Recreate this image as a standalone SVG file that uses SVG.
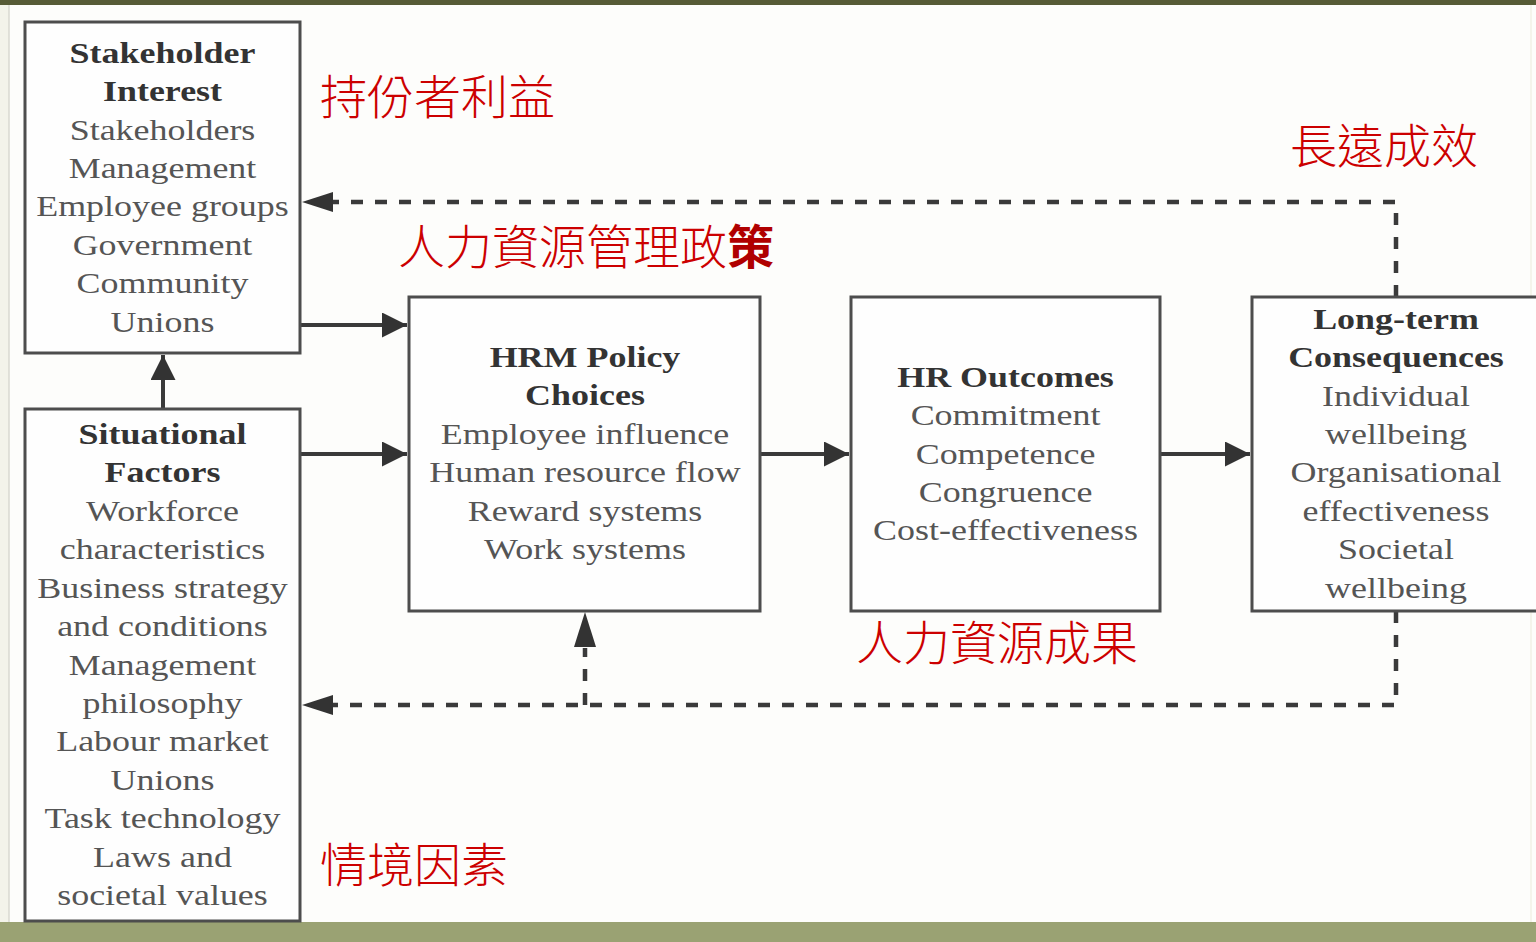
<svg xmlns="http://www.w3.org/2000/svg" width="1536" height="942" viewBox="0 0 1536 942">
<defs>
<style>
.box{fill:#fefefe;stroke:#4d4d4d;stroke-width:3}
.solid{stroke:#3a3a3a;stroke-width:4;fill:none}
.dash{stroke:#3a3a3a;stroke-width:4.5;fill:none;stroke-dasharray:12 12}
.t{font-family:"Liberation Serif","Times New Roman",serif;font-size:29px;fill:#555;text-anchor:middle}
.b{font-weight:bold;fill:#333}
.zh{font-family:"Noto Sans CJK TC","Noto Sans CJK SC",sans-serif;font-size:47px;font-weight:300;fill:#cc0000}
</style>
<marker id="ah" viewBox="0 0 10 10" refX="10" refY="5" markerWidth="31" markerHeight="25" markerUnits="userSpaceOnUse" orient="auto">
<path d="M0,0 L10,5 L0,10 Z" fill="#333"/>
</marker>
</defs>
<rect x="0" y="0" width="1536" height="942" fill="#fdfdfb"/>
<rect x="0" y="0" width="9" height="942" fill="#f3f3ea"/>
<line x1="9" y1="0" x2="9" y2="923" stroke="#d8d8d0" stroke-width="1.5"/>
<line x1="1531" y1="0" x2="1531" y2="923" stroke="#f0f0e6" stroke-width="1.5"/>
<rect x="0" y="0" width="1536" height="5" fill="#575b36"/>
<rect x="0" y="922" width="1536" height="20" fill="#9aa273"/>

<g id="connectors">
<line class="solid" x1="300" y1="325" x2="407" y2="325" marker-end="url(#ah)"/>
<line class="solid" x1="300" y1="454" x2="407" y2="454" marker-end="url(#ah)"/>
<line class="solid" x1="760" y1="454" x2="849" y2="454" marker-end="url(#ah)"/>
<line class="solid" x1="1160" y1="454" x2="1250" y2="454" marker-end="url(#ah)"/>
<line class="solid" x1="163" y1="408" x2="163" y2="355" marker-end="url(#ah)"/>
<path class="dash" d="M1396,297 L1396,202 L333,202"/>
<path d="M302,202 L333,192 L333,212 Z" fill="#333"/>
<path class="dash" d="M1396,611 L1396,705 L333,705"/>
<path d="M302,705 L333,695 L333,715 Z" fill="#333"/>
<path class="dash" d="M585,705 L585,648" stroke-dasharray="11 11"/>
<path d="M585,612 L574,647 L596,647 Z" fill="#333"/>
</g>

<g id="stakeholder">
<rect class="box" x="25" y="22" width="275" height="331"/>
<g transform="translate(162.5 0) scale(1.24 1)">
<text class="t b" x="0" y="63">Stakeholder</text>
<text class="t b" x="0" y="101">Interest</text>
<text class="t" x="0" y="140">Stakeholders</text>
<text class="t" x="0" y="178">Management</text>
<text class="t" x="0" y="216">Employee groups</text>
<text class="t" x="0" y="255">Government</text>
<text class="t" x="0" y="293">Community</text>
<text class="t" x="0" y="332">Unions</text>
</g>
</g>

<g id="situational">
<rect class="box" x="25" y="409" width="275" height="512"/>
<g transform="translate(162.5 0) scale(1.24 1)">
<text class="t b" x="0" y="444">Situational</text>
<text class="t b" x="0" y="482">Factors</text>
<text class="t" x="0" y="521">Workforce</text>
<text class="t" x="0" y="559">characteristics</text>
<text class="t" x="0" y="598">Business strategy</text>
<text class="t" x="0" y="636">and conditions</text>
<text class="t" x="0" y="675">Management</text>
<text class="t" x="0" y="713">philosophy</text>
<text class="t" x="0" y="751">Labour market</text>
<text class="t" x="0" y="790">Unions</text>
<text class="t" x="0" y="828">Task technology</text>
<text class="t" x="0" y="867">Laws and</text>
<text class="t" x="0" y="905">societal values</text>
</g>
</g>

<g id="hrm">
<rect class="box" x="409" y="297" width="351" height="314"/>
<g transform="translate(585 0) scale(1.24 1)">
<text class="t b" x="0" y="367">HRM Policy</text>
<text class="t b" x="0" y="405">Choices</text>
<text class="t" x="0" y="444">Employee influence</text>
<text class="t" x="0" y="482">Human resource flow</text>
<text class="t" x="0" y="521">Reward systems</text>
<text class="t" x="0" y="559">Work systems</text>
</g>
</g>

<g id="outcomes">
<rect class="box" x="851" y="297" width="309" height="314"/>
<g transform="translate(1005.5 0) scale(1.24 1)">
<text class="t b" x="0" y="387">HR Outcomes</text>
<text class="t" x="0" y="425">Commitment</text>
<text class="t" x="0" y="464">Competence</text>
<text class="t" x="0" y="502">Congruence</text>
<text class="t" x="0" y="540">Cost-effectiveness</text>
</g>
</g>

<g id="longterm">
<rect class="box" x="1252" y="297" width="300" height="314"/>
<g transform="translate(1396 0) scale(1.24 1)">
<text class="t b" x="0" y="329">Long-term</text>
<text class="t b" x="0" y="367">Consequences</text>
<text class="t" x="0" y="406">Individual</text>
<text class="t" x="0" y="444">wellbeing</text>
<text class="t" x="0" y="482">Organisational</text>
<text class="t" x="0" y="521">effectiveness</text>
<text class="t" x="0" y="559">Societal</text>
<text class="t" x="0" y="598">wellbeing</text>
</g>
</g>

<g id="labels">
<text class="zh" x="320" y="114">持份者利益</text>
<text class="zh" x="1290" y="163">長遠成效</text>
<text class="zh" x="398" y="264">人力資源管理政<tspan font-weight="bold" fill="#b00000">策</tspan></text>
<text class="zh" x="856" y="660">人力資源成果</text>
<text class="zh" x="320" y="882">情境因素</text>
</g>
</svg>
